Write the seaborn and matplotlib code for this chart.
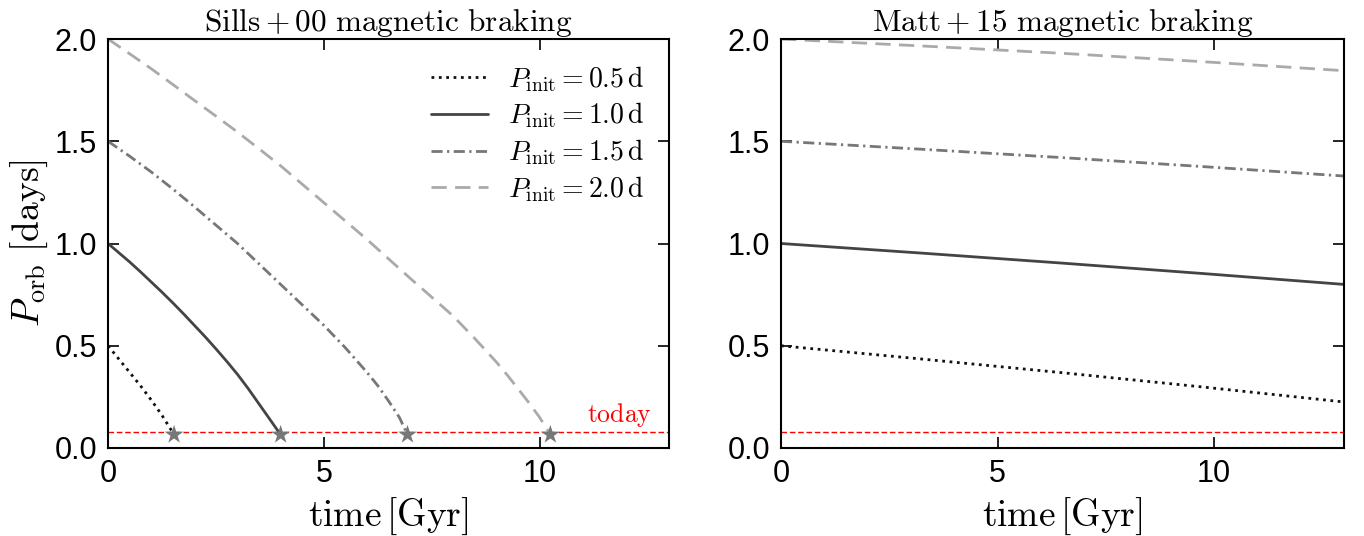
import numpy as np
import pandas as pd
import matplotlib
matplotlib.use("Agg")
import matplotlib.pyplot as plt
import seaborn as sns

# ---- data ----
p_init_labels = ["0.5", "1.0", "1.5", "2.0"]

# Sills+00 braking (left panel)
sills_t_05 = [0.0, 0.25, 0.5, 0.75, 1.0, 1.25, 1.53]
sills_p_05 = [0.50, 0.435, 0.37, 0.305, 0.235, 0.16, 0.065]
sills_t_10 = [0.0, 0.25, 0.5, 0.75, 1.0, 1.25, 1.5, 1.75, 2.0, 2.25, 2.5, 2.75,
              3.0, 3.25, 3.5, 3.65, 3.8, 3.9, 4.0]
sills_p_10 = [1.0, 0.955, 0.91, 0.862, 0.812, 0.762, 0.71, 0.656, 0.60, 0.544,
              0.485, 0.424, 0.36, 0.29, 0.215, 0.17, 0.125, 0.095, 0.065]
sills_t_15 = [0.0, 0.5, 1.0, 1.5, 2.0, 2.5, 3.0, 3.5, 4.0, 4.5, 5.0, 5.5, 6.0,
              6.25, 6.5, 6.75, 6.94]
sills_p_15 = [1.5, 1.427, 1.35, 1.267, 1.18, 1.09, 1.0, 0.90, 0.80, 0.70, 0.60,
              0.49, 0.37, 0.305, 0.23, 0.15, 0.065]
sills_t_20 = [0.0, 0.5, 1.0, 1.5, 2.0, 2.5, 3.0, 3.5, 4.0, 4.5, 5.0, 5.5, 6.0,
              6.5, 7.0, 7.5, 8.0, 8.5, 9.0, 9.25, 9.5, 9.75, 10.0, 10.25]
sills_p_20 = [2.0, 1.928, 1.855, 1.778, 1.70, 1.623, 1.545, 1.463, 1.38, 1.29,
              1.20, 1.11, 1.02, 0.925, 0.83, 0.738, 0.645, 0.535, 0.42, 0.357,
              0.29, 0.222, 0.15, 0.065]

# end points (stars)
star_t = [1.53, 4.0, 6.94, 10.25]
star_p = [0.065, 0.065, 0.065, 0.065]

# Matt+15 braking (right panel)
matt_t = [0.0, 3.25, 6.5, 9.75, 13.0]
matt_p_05 = [0.50, 0.435, 0.368, 0.298, 0.225]
matt_p_10 = [1.0, 0.953, 0.904, 0.853, 0.80]
matt_p_15 = [1.5, 1.461, 1.42, 1.376, 1.33]
matt_p_20 = [2.0, 1.966, 1.93, 1.889, 1.845]

p_today = 0.078

# ---- style ----
sns.set_theme(style="ticks")
plt.rcParams["font.family"] = ["Liberation Sans", "DejaVu Sans"]
plt.rcParams["mathtext.fontset"] = "cm"

colors = ["#111111", "#444444", "#777777", "#aaaaaa"]
styles = [(0, (1, 1.65)), "-", (0, (4.0, 1.6, 0.8, 1.6)), (0, (5.5, 3.0))]

fig = plt.figure(figsize=(13.64, 5.36), dpi=100)
axL = fig.add_axes([0.0792, 0.1642, 0.4113, 0.763])
axR = fig.add_axes([0.5726, 0.1642, 0.4127, 0.763])

sills = [(sills_t_05, sills_p_05), (sills_t_10, sills_p_10),
         (sills_t_15, sills_p_15), (sills_t_20, sills_p_20)]
matt = [matt_p_05, matt_p_10, matt_p_15, matt_p_20]

for i, (t, p) in enumerate(sills):
    sns.lineplot(x=t, y=p, ax=axL, color=colors[i], linestyle=styles[i], lw=2,
                 label=r"$P_{\rm init} = %s\,{\rm d}$" % p_init_labels[i])
sns.scatterplot(x=star_t, y=star_p, ax=axL, marker="*", s=200, color="#777777",
                edgecolor="none", zorder=5, legend=False)

for i, p in enumerate(matt):
    sns.lineplot(x=matt_t, y=p, ax=axR, color=colors[i], linestyle=styles[i], lw=2)

for ax in (axL, axR):
    ax.axhline(p_today, color="red", lw=1, linestyle=(0, (4, 2)))
    ax.set_xlim(0, 13)
    ax.set_ylim(0, 2.0)
    ax.set_xticks([0, 5, 10])
    ax.set_yticks([0, 0.5, 1.0, 1.5, 2.0])
    ax.set_yticklabels(["0.0", "0.5", "1.0", "1.5", "2.0"])
    ax.tick_params(direction="in", top=True, right=True, length=8, width=1.2,
                   labelsize=22, pad=8, colors="black")
    for s in ax.spines.values():
        s.set_linewidth(1.5)
        s.set_color("black")
    ax.set_xlabel(r"$\rm time\,[Gyr]$", fontsize=27, labelpad=5, color="black")

axL.set_ylabel(r"$P_{\rm orb}\ {\rm [days]}$", fontsize=27, labelpad=3, color="black")
axR.set_ylabel("")
axL.set_title(r"$\rm Sills+00\ magnetic\ braking$", fontsize=22.5, pad=6, color="black")
axR.set_title(r"$\rm Matt+15\ magnetic\ braking$", fontsize=22.5, pad=6, color="black")
axL.text(12.6, p_today + 0.015, r"$\rm today$", color="red", fontsize=18.5,
         ha="right", va="bottom")

leg = axL.legend(loc="upper right", frameon=False, fontsize=20, handlelength=2.05,
                 labelspacing=0.25, borderaxespad=0.5, handletextpad=0.72)
for txt in leg.get_texts():
    txt.set_color("black")

fig.savefig("out.png", dpi=100)
